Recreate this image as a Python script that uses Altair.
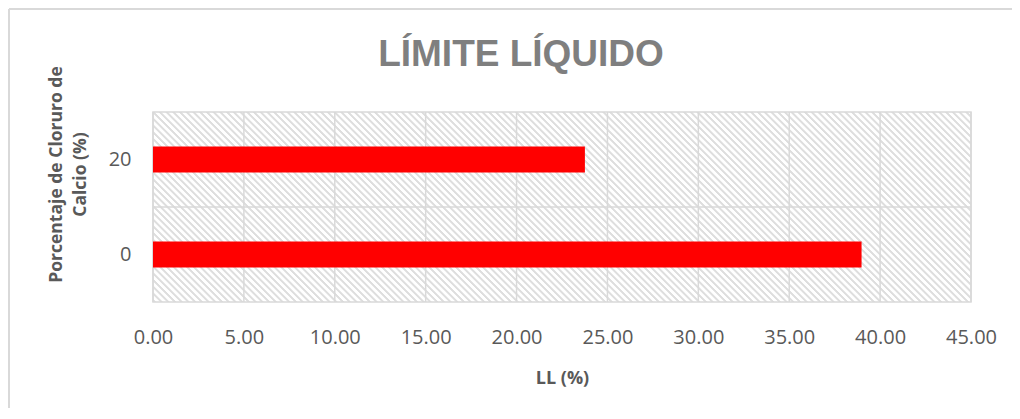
import altair as alt
import pandas as pd

# ---- data ----
porcentaje = ["20", "0"]          # Porcentaje de Cloruro de Calcio (%)
ll_values = [23.76, 38.98]        # LL (%)
x_ticks = [0, 5, 10, 15, 20, 25, 30, 35, 40, 45]
chart_title = "LÍMITE LÍQUIDO"

# ---- layout ----
PLOT_W, PLOT_H = 818, 190
PAD = {"left": 145, "top": 104, "right": 41, "bottom": 106}
GRID = "#d9d9d9"
TXT = "#595959"

# diagonal hatch as a linear gradient (style only)
W, H = PLOT_W, PLOT_H
lam = (W + H) / (W * W + H * H)
n_per = 150
stops = []
for k in range(n_per):
    stops += [
        {"offset": k / n_per, "color": "#ffffff"},
        {"offset": (k + 0.15) / n_per, "color": "#dedede"},
        {"offset": (k + 0.42) / n_per, "color": "#dedede"},
        {"offset": (k + 0.57) / n_per, "color": "#ffffff"},
    ]
stops.append({"offset": 1, "color": "#ffffff"})
hatch = {"gradient": "linear", "x1": 0, "y1": 1, "x2": lam * W, "y2": 1 - lam * H, "stops": stops}

bars_df = pd.DataFrame({"pct": porcentaje, "LL": ll_values})
ticks_df = pd.DataFrame({"tick": x_ticks})
one_df = pd.DataFrame({"t": [chart_title]})

xscale = alt.Scale(domain=[x_ticks[0], x_ticks[-1]], nice=False)


def x_axis():
    return alt.Axis(
        values=x_ticks, format=".2f", labelFont="Open Sans", labelFontSize=20,
        labelColor=TXT, labelPadding=25, labelFlush=False, labelOverlap=False,
        ticks=False, domain=False, grid=False,
        title="LL (%)", titleFont="Open Sans", titleFontSize=18, titleFontWeight="bold",
        titleColor=TXT, titleX=PLOT_W / 2, titleY=81, titleBaseline="alphabetic", titleAlign="center",
    )


# outer chart frame: top and left edges only (right/bottom lie outside the picture)
frame_top = alt.Chart(one_df).mark_rule(color=GRID, strokeWidth=2).encode(
    x=alt.value(-PAD["left"] + 1), x2=alt.value(PLOT_W + PAD["right"]), y=alt.value(-PAD["top"] + 1)
)
frame_left = alt.Chart(one_df).mark_rule(color=GRID, strokeWidth=2).encode(
    x=alt.value(-PAD["left"] + 1), y=alt.value(-PAD["top"] + 1), y2=alt.value(PLOT_H + PAD["bottom"])
)

bg = alt.Chart(one_df).mark_rect(fill=hatch, stroke=GRID, strokeWidth=1.5).encode(
    x=alt.X(datum=x_ticks[0], type="quantitative", scale=xscale, axis=x_axis()),
    x2=alt.X2(datum=x_ticks[-1]),
    y=alt.value(0), y2=alt.value(PLOT_H),
)

vgrid = alt.Chart(ticks_df).mark_rule(color=GRID, strokeWidth=1.5).encode(
    x=alt.X("tick:Q", scale=xscale, axis=x_axis()),
    y=alt.value(0), y2=alt.value(PLOT_H),
)

hgrid = alt.Chart(one_df).mark_rule(color=GRID, strokeWidth=1.5).encode(
    x=alt.value(0), x2=alt.value(PLOT_W), y=alt.value(PLOT_H / 2)
)

bars = alt.Chart(bars_df).mark_bar(color="#ff0000", size=26).encode(
    x=alt.X("LL:Q", scale=xscale, axis=x_axis()),
    y=alt.Y("pct:N", sort=porcentaje, scale=alt.Scale(paddingInner=0, paddingOuter=0), axis=alt.Axis(
        labelFont="Open Sans", labelFontSize=20, labelColor=TXT, labelPadding=22,
        ticks=False, domain=False, grid=False,
        title=["Porcentaje  de Cloruro de", "Calcio (%)"], titleFont="Open Sans",
        titleFontSize=17.5, titleFontWeight="bold", titleColor=TXT, titleAngle=270,
        titleX=-97, titleY=62, titleAlign="center", titleBaseline="middle", titleLineHeight=24,
    )),
)

title = alt.Chart(one_df).mark_text(
    font="Liberation Sans", fontSize=37, fontWeight="bold",
    color="#7f7f7f", align="center", baseline="alphabetic",
).encode(x=alt.value(368), y=alt.value(-46), text="t:N")

chart = alt.layer(frame_top, frame_left, bg, vgrid, hgrid, bars, title).properties(
    width=PLOT_W, height=PLOT_H, padding=PAD,
    autosize=alt.AutoSizeParams(type="none"),
).configure_view(stroke=None)

chart.save("out.html", embed_options={"renderer": "svg", "actions": False})
